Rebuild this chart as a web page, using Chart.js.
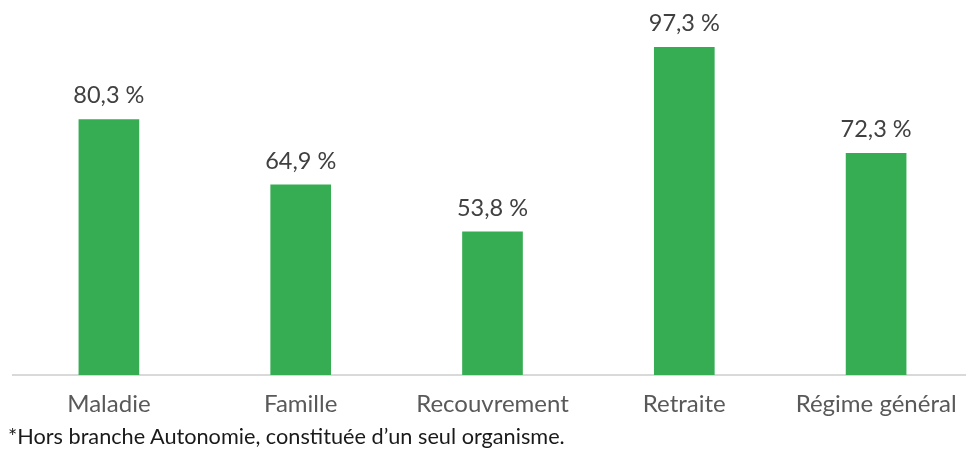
<!DOCTYPE html>
<html><head><meta charset="utf-8">
<script src="https://cdn.jsdelivr.net/npm/chart.js@4"></script>
<style>
html,body{margin:0;padding:0;background:#fff;overflow:hidden;width:966px;height:451px;}
#wrap{position:absolute;left:0;top:0;width:972px;height:451px;}
#note{position:absolute;left:8px;top:423px;font-family:Lato,sans-serif;font-size:21.7px;color:#1a1a1a;white-space:nowrap;}
</style></head><body>
<div id="wrap"><canvas id="c" width="972" height="451"></canvas></div>
<div id="note">*Hors branche Autonomie, constituée d’un seul organisme.</div>
<script>
const categories = ["Maladie","Famille","Recouvrement","Retraite","Régime général"];
const values = [80.3, 64.9, 53.8, 97.3, 72.3];
const labels = values.map(v => v.toFixed(1).replace('.', ',') + ' %');

const valueLabels = {
  id: 'valueLabels',
  afterDatasetsDraw(chart) {
    const ctx = chart.ctx;
    const meta = chart.getDatasetMeta(0);
    ctx.save();
    ctx.font = '23.5px Lato, sans-serif';
    ctx.fillStyle = '#404040';
    ctx.textAlign = 'center';
    ctx.textBaseline = 'alphabetic';
    meta.data.forEach((bar, i) => {
      ctx.fillText(labels[i], bar.x, bar.y - 16);
    });
    ctx.restore();
  }
};

new Chart(document.getElementById('c'), {
  type: 'bar',
  data: { labels: categories, datasets: [{ data: values, backgroundColor: '#36ad53', barThickness: 60 }] },
  options: {
    responsive: false, animation: false,
    layout: { padding: { top: 36, left: 13, right: 0, bottom: 0 } },
    plugins: { legend: { display: false }, tooltip: { enabled: false } },
    scales: {
      y: { display: false, min: 20, max: 100 },
      x: {
        grid: { display: false, drawTicks: false },
        border: { display: true, color: '#d9d9d9', width: 2 },
        ticks: { color: '#595959', font: { family: 'Lato, sans-serif', size: 24 }, padding: 15, maxRotation: 0 },
        afterFit(scale) { scale.height = 76; }
      }
    }
  },
  plugins: [valueLabels]
});
</script>
</body></html>
